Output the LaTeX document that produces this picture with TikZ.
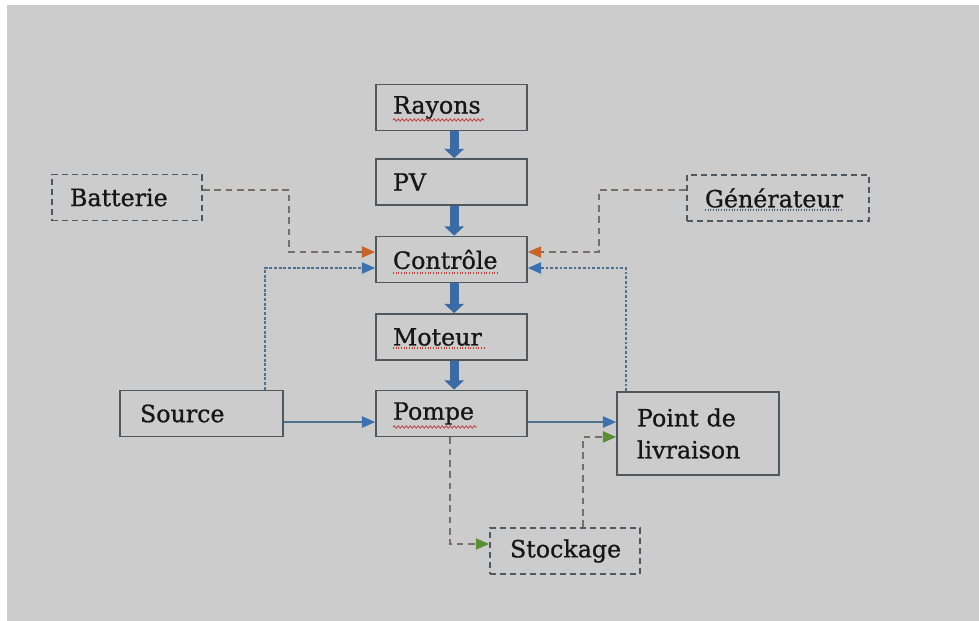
\documentclass[tikz,border=0pt]{standalone}
\usepackage{fontspec}
\setmainfont{DejaVu Serif}
\newfontfamily\labelfont{DejaVu Serif}[FakeBold=0.9]
\usetikzlibrary{arrows.meta,calc,decorations.pathmorphing}

\definecolor{bg}{HTML}{CCCCCC}
\definecolor{boxline}{HTML}{4E5860}
\definecolor{flowblue}{HTML}{3A6CA3}
\definecolor{linkblue}{HTML}{50708F}
\definecolor{tipblue}{HTML}{3C70AE}
\definecolor{tiporange}{HTML}{C8642A}
\definecolor{tipgreen}{HTML}{5A8E34}
\definecolor{dashgray}{HTML}{75706A}
\definecolor{txt}{HTML}{161616}
\definecolor{spellred}{HTML}{C04040}
\definecolor{spellblue}{HTML}{506078}

\begin{document}
\begin{tikzpicture}[x=0.75pt,y=-0.75pt,
  box/.style={draw=boxline, line width=1.3pt, text=txt, align=left,
    font=\labelfont\fontsize{17.8}{24}\selectfont, inner ysep=0pt,
    minimum height=34.5pt},
  dbox/.style={box, dashed, dash pattern=on 4.5pt off 3pt},
  bigflow/.style={draw=flowblue, line width=6.6pt,
    -{Triangle[width=14.5pt,length=7pt]}},
  tip/.style={-{Triangle[width=8.5pt,length=10pt,fill=#1,color=#1]}},
  orangelink/.style={draw=dashgray, line width=1.1pt,
    dash pattern=on 5pt off 3.5pt, tip=tiporange},
  greenlink/.style={draw=dashgray, line width=1.1pt,
    dash pattern=on 5pt off 3.5pt, tip=tipgreen},
  bluedot/.style={draw=linkblue, line width=1.2pt,
    dash pattern=on 2.2pt off 1.3pt, tip=tipblue},
  bluesolid/.style={draw=linkblue, line width=1.2pt, tip=tipblue},
  spellwave/.style={draw=spellred, line width=0.6pt,
    decorate, decoration={snake, amplitude=0.9pt, segment length=3pt}},
  spelldot/.style={draw=#1, line width=0.8pt, dash pattern=on 0.8pt off 1.2pt},
]
% page and backdrop
\fill[white] (0,0) rectangle (979,621);
\fill[bg] (7,5) rectangle (979,621);
\useasboundingbox (0,0) rectangle (979,621);

% main chain
\node[box, text width=87.75pt, inner xsep=12.75pt] (ray) at (451.5,107.5) {Rayons};
\node[box, text width=87.75pt, inner xsep=12.75pt] (pv)  at (451.5,182)   {PV};
\node[box, text width=87.75pt, inner xsep=12.75pt] (ctl) at (451.5,259.5) {Contrôle};
\node[box, text width=87.75pt, inner xsep=12.75pt] (mot) at (451.5,337)   {Moteur};
\node[box, text width=87.75pt, inner xsep=12.75pt] (pom) at (451.5,413.5) {Pompe};

% side elements
\node[box, text width=92.25pt, inner xsep=15pt] (src) at (201.5,413.5) {Source};
\node[dbox, text width=85.5pt, inner xsep=13.5pt] (bat) at (127,197.5) {Batterie};
\node[dbox, text width=109.5pt, inner xsep=13.5pt] (gen) at (778,198) {Générateur};
\node[box, text width=91.5pt, inner xsep=15pt, minimum height=62.25pt] (pt) at (698,433.5) {Point de\\livraison};
\node[dbox, text width=82.5pt, inner xsep=15pt] (sto) at (565,551) {Stockage};

% energy flow down the chain
\draw[bigflow] ([xshift=2pt]ray.south) -- ([xshift=2pt]pv.north);
\draw[bigflow] ([xshift=2pt]pv.south)  -- ([xshift=2pt]ctl.north);
\draw[bigflow] ([xshift=2pt]ctl.south) -- ([xshift=2pt]mot.north);
\draw[bigflow] ([xshift=2pt]mot.south) -- ([xshift=2pt]pom.north);

% backup supplies into the controller
\draw[orangelink] ([yshift=5.6pt]bat.east) -- ++(86,0) |- ([yshift=5.6pt]ctl.west);
\draw[orangelink] ([yshift=6pt]gen.west) -- ++(-87,0) |- ([yshift=5.6pt]ctl.east);

% level sensing back to the controller
\draw[bluedot] ([xshift=47.6pt]src.north) |- ([yshift=-6.4pt]ctl.west);
\draw[bluedot] ([xshift=-54pt]pt.north) |- ([yshift=-6.4pt]ctl.east);

% water path
\draw[bluesolid] ([yshift=-6.4pt]src.east) -- ([yshift=-6.4pt]pom.west);
\draw[bluesolid] ([yshift=-6.4pt]pom.east) -- ([yshift=-6.4pt]pom.east -| pt.west);

% storage loop
\draw[greenlink] ([xshift=-1.1pt]pom.south) |- ([yshift=5.25pt]sto.west);
\draw[greenlink] ([xshift=13.5pt]sto.north) |- ([yshift=-2.6pt]pt.west);

% spell-check marks under words
\draw[spellwave] (393,120) -- (484,120);
\draw[spelldot=spellred] (393,273) -- (498,273);
\draw[spelldot=spellred] (393,348) -- (486,348);
\draw[spellwave] (393,427) -- (477,427);
\draw[spelldot=spellblue] (705,210) -- (843,210);
\end{tikzpicture}
\end{document}
